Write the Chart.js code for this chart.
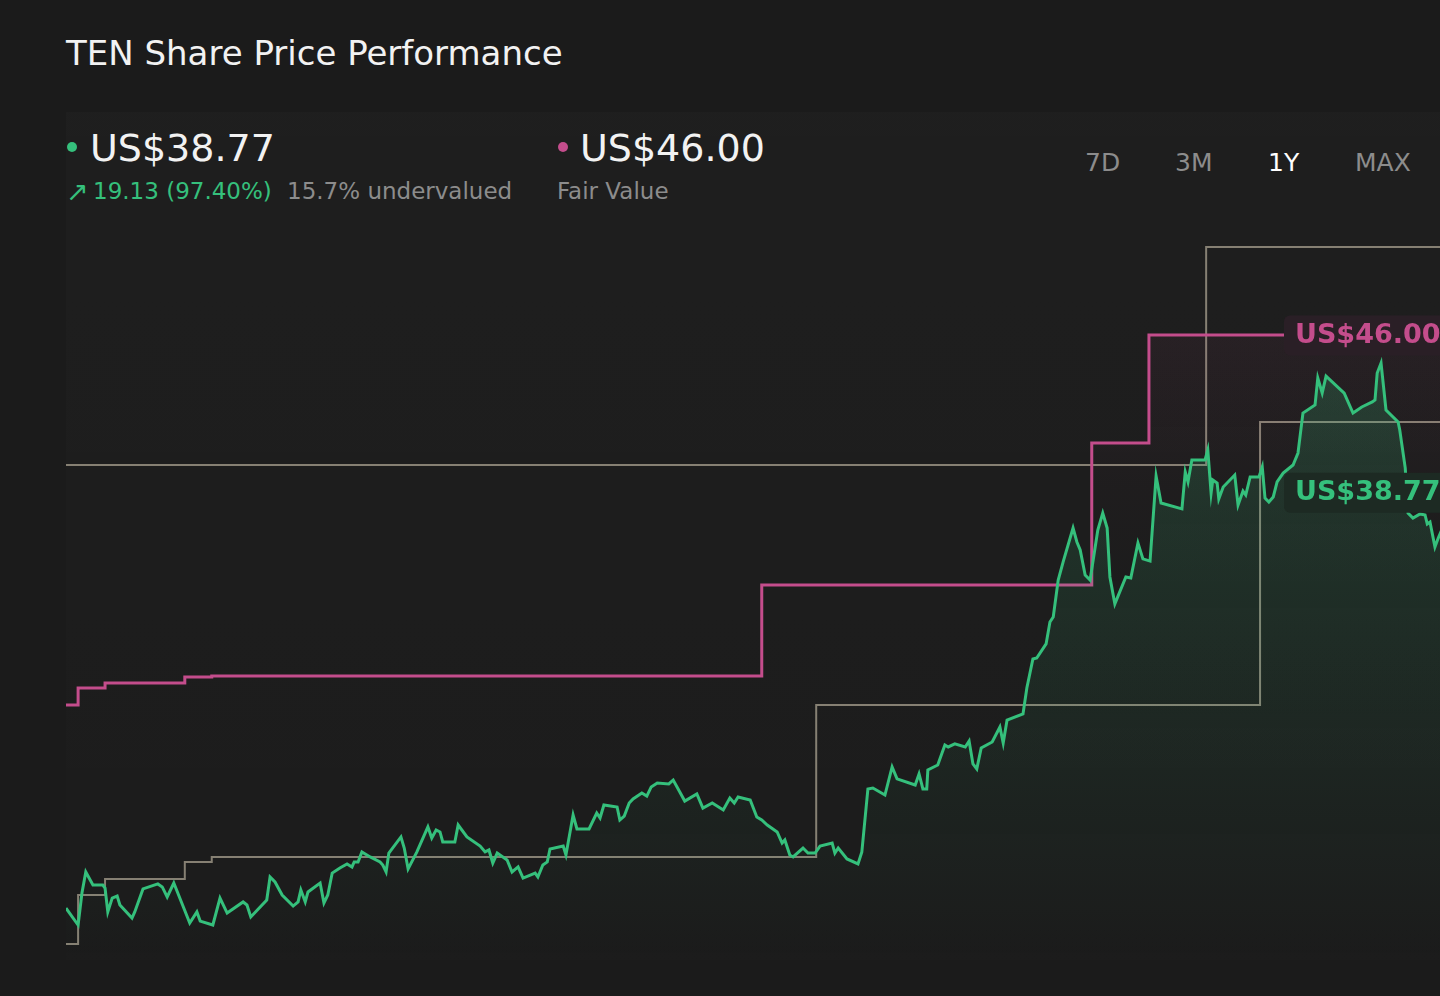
<!DOCTYPE html>
<html>
<head>
<meta charset="utf-8">
<title>TEN Share Price Performance</title>
<script src="https://cdn.jsdelivr.net/npm/chart.js@4.4.1/dist/chart.umd.min.js"></script>
<style>
  html, body { margin: 0; padding: 0; }
  body {
    width: 1440px; height: 996px; overflow: hidden;
    background: #1b1b1b; position: relative;
    font-family: "DejaVu Sans", sans-serif; color: #f2f2f2;
  }
  .abs { position: absolute; line-height: 1; white-space: nowrap; }
  #panel {
    position: absolute; left: 66px; top: 112px; width: 1374px; height: 848px;
    background: linear-gradient(to bottom, rgba(255,255,255,0.014), rgba(255,255,255,0.004));
  }
  #title { left: 66px; top: 36px; font-size: 34px; }
  .dot { position: absolute; width: 10px; height: 10px; border-radius: 50%; }
  .big { font-size: 38px; top: 129px; }
  .sub { font-size: 23px; top: 180px; color: #8c8c8c; }
  .range { font-size: 25px; top: 150px; color: #8c8c8c; }
  #chartBox { position: absolute; left: 66px; top: 230px; width: 1386px; height: 730px; }
</style>
</head>
<body>
<div id="panel"></div>
<div id="title" class="abs">TEN Share Price Performance</div>

<div class="dot" style="left:67px; top:142px; background:#35c07c;"></div>
<div class="abs big" style="left:90px;">US$38.77</div>
<div class="abs" style="left:66px; top:178px; font-size:27px; color:#35c07c;">↗</div>
<div class="abs sub" style="left:93px; color:#35c07c;">19.13 (97.40%)</div>
<div class="abs sub" style="left:287px;">15.7% undervalued</div>

<div class="dot" style="left:558px; top:142px; background:#c44d8c;"></div>
<div class="abs big" style="left:580px;">US$46.00</div>
<div class="abs sub" style="left:557px;">Fair Value</div>

<div class="abs range" style="left:1085px;">7D</div>
<div class="abs range" style="left:1175px;">3M</div>
<div class="abs range" style="left:1268px; color:#ffffff;">1Y</div>
<div class="abs range" style="left:1355px;">MAX</div>

<div id="chartBox"><canvas id="priceChart"></canvas></div>

<script>
// trading-day index and close price (US$)
const priceDays = [
  0, 2.2, 2.9, 3.6, 4.9, 6.7, 7.1, 7.6, 8.4, 9.3, 9.8, 12.0, 12.5, 14.0, 16.7, 17.5, 18.4, 19.6,
  22.5, 23.8, 24.4, 26.7, 28.0, 29.3, 32.2, 32.9, 33.6, 36.5, 37.1, 38.0, 39.3, 41.3, 42.2, 42.7,
  43.5, 44.0, 46.2, 46.9, 47.6, 48.4, 49.8, 51.1, 52.0, 52.4, 53.1, 53.8, 55.3, 57.1, 57.6, 58.2,
  58.7, 60.9, 61.5, 62.2, 63.8, 65.8, 66.5, 67.3, 68.0, 68.5, 70.7, 71.3, 72.9, 75.3, 76.2, 76.9,
  77.6, 78.4, 80.2, 81.1, 82.2, 83.1, 85.3, 85.8, 86.7, 87.5, 88.0, 90.4, 90.9, 92.2, 92.9, 95.1,
  96.5, 97.1, 97.8, 100.2, 100.7, 101.5, 102.4, 103.1, 104.7, 105.6, 106.4, 107.5, 109.6, 110.4,
  111.6, 112.5, 114.7, 115.8, 117.5, 119.5, 120.7, 121.5, 122.2, 124.4, 125.6, 126.5, 127.5, 129.3,
  130.2, 130.7, 131.6, 132.2, 134.0, 134.9, 136.2, 137.1, 139.3, 139.8, 140.4, 142.0, 144.0, 144.7,
  145.8, 146.7, 148.9, 150.2, 151.1, 154.4, 155.1, 155.8, 156.5, 156.7, 158.5, 159.8, 160.4, 161.6,
  163.5, 164.2, 164.9, 165.6, 166.4, 168.4, 169.8, 170.4, 171.1, 174.0, 174.7, 175.8, 176.5, 178.2,
  178.9, 179.5, 180.4, 181.3, 183.1, 183.8, 184.4, 185.3, 186.2, 187.6, 188.5, 189.3, 189.8, 190.7,
  192.7, 193.6, 194.9, 195.8, 197.1, 198.2, 199.1, 202.9, 203.5, 204.0, 204.7, 207.1, 207.6, 208.2,
  208.5, 209.3, 209.6, 210.4, 212.5, 213.1, 214.0, 214.5, 215.3, 216.9, 217.5, 218.0, 218.7, 219.5,
  220.2, 221.3, 223.1, 224.0, 224.9, 227.1, 227.6, 228.4, 229.1, 232.4, 234.0, 235.6, 237.5, 238.0,
  238.4, 239.1, 240.0, 242.2, 242.5, 243.5, 244.0, 244.9, 246.2, 247.1, 247.5, 248.0, 248.9, 249.5,
  250.9, 252.0
];
const priceValues = [
  19.64, 18.86, 20.33, 21.30, 20.70, 20.70, 20.56, 19.46, 20.10, 20.19, 19.78, 19.18, 19.46, 20.52,
  20.75, 20.61, 20.15, 20.79, 18.95, 19.46, 19.04, 18.86, 20.10, 19.41, 19.92, 19.78, 19.23, 20.01,
  21.07, 20.84, 20.24, 19.73, 19.92, 20.47, 19.92, 20.38, 20.79, 19.87, 20.24, 21.25, 21.48, 21.67,
  21.53, 21.76, 21.76, 22.22, 21.99, 21.76, 21.62, 21.30, 22.17, 22.91, 22.40, 21.44, 22.22, 23.37,
  22.86, 23.23, 23.14, 22.68, 22.68, 23.46, 22.91, 22.49, 22.22, 22.31, 21.71, 22.17, 21.85, 21.30,
  21.53, 21.02, 21.25, 21.07, 21.62, 21.76, 22.36, 22.49, 22.08, 23.92, 23.28, 23.28, 24.01, 23.78,
  24.38, 24.29, 23.69, 23.87, 24.47, 24.66, 24.93, 24.79, 25.21, 25.39, 25.35, 25.53, 24.98, 24.56,
  24.89, 24.24, 24.47, 24.15, 24.70, 24.47, 24.75, 24.61, 23.83, 23.69, 23.46, 23.14, 22.63, 22.77,
  22.08, 21.99, 22.40, 22.17, 22.17, 22.49, 22.63, 22.17, 22.40, 21.90, 21.67, 22.22, 25.12, 25.16,
  24.84, 26.13, 25.58, 25.30, 25.81, 25.12, 25.12, 25.99, 26.22, 27.14, 27.05, 27.19, 27.05, 27.32,
  26.27, 26.04, 27.00, 27.28, 27.97, 27.23, 28.29, 28.57, 29.76, 31.10, 31.14, 31.79, 32.80, 33.03,
  34.73, 35.56, 37.12, 36.48, 36.11, 34.96, 34.73, 37.03, 37.81, 37.12, 34.87, 33.63, 34.87, 34.82,
  36.43, 35.70, 35.60, 39.51, 38.27, 38.00, 39.70, 39.24, 40.25, 40.25, 40.71, 38.73, 39.33, 39.19,
  38.46, 39.01, 39.56, 38.18, 38.82, 38.64, 39.47, 39.47, 39.93, 38.50, 38.32, 38.55, 39.24, 39.65,
  40.02, 40.57, 42.41, 42.78, 44.02, 43.33, 44.11, 43.33, 42.41, 42.69, 42.92, 43.01, 44.25, 44.71,
  42.55, 42.00, 41.63, 39.88, 37.81, 37.58, 37.77, 37.72, 37.31, 37.40, 36.25, 36.66, 37.49, 38.77
];

// fair value estimate, held until the next change
const fairValueDays = [0, 2.2, 7.1, 21.6, 26.5, 126.5, 186.5, 196.9, 252];
const fairValues = [28.98, 29.76, 29.99, 30.27, 30.31, 34.50, 41.03, 46.00, 46.00];

// grey reference steps
const upperDays = [0, 207.3, 252];
const upperValues = [40.02, 50.05, 50.05];
const lowerDays = [0, 2.2, 7.1, 21.6, 26.5, 136.4, 217.1, 252];
const lowerValues = [17.99, 20.24, 20.98, 21.76, 21.99, 28.98, 42.00, 42.00];

const GREEN = '#35c07c';
const PINK = '#c44d8c';
const GREY = '#868073';

function toPoints(days, values) {
  return days.map((d, i) => ({ x: d, y: values[i] }));
}

function greenFill(context) {
  const chart = context.chart;
  const area = chart.chartArea;
  if (!area) return 'transparent';
  const g = chart.ctx.createLinearGradient(0, area.top, 0, area.bottom);
  g.addColorStop(0, 'rgba(53,192,124,0.26)');
  g.addColorStop(0.4, 'rgba(53,192,124,0.13)');
  g.addColorStop(1, 'rgba(53,192,124,0.0)');
  return g;
}

function pinkFill(context) {
  const chart = context.chart;
  const area = chart.chartArea;
  if (!area) return 'transparent';
  const g = chart.ctx.createLinearGradient(0, area.top, 0, area.bottom);
  g.addColorStop(0.1, 'rgba(196,77,140,0.07)');
  g.addColorStop(0.35, 'rgba(196,77,140,0.015)');
  g.addColorStop(0.5, 'rgba(196,77,140,0.0)');
  return g;
}

// end-of-line value tags
const endLabels = {
  id: 'endLabels',
  afterDatasetsDraw(chart) {
    const c = chart.ctx;
    const yScale = chart.scales.y;
    const tags = [
      { value: fairValues[fairValues.length - 1], color: PINK, bg: '#2a1f26' },
      { value: priceValues[priceValues.length - 1], color: GREEN, bg: '#1d2a23' }
    ];
    c.save();
    tags.forEach(t => {
      const y = yScale.getPixelForValue(t.value);
      const x = chart.chartArea.right - 168;
      c.fillStyle = t.bg;
      c.beginPath();
      c.roundRect(x, y - 19.5, 190, 40, 6);
      c.fill();
      c.fillStyle = t.color;
      c.font = 'bold 27px "DejaVu Sans"';
      c.textBaseline = 'middle';
      c.textAlign = 'left';
      c.fillText('US$' + t.value.toFixed(2), x + 11, y + 1);
    });
    c.restore();
  }
};

const ctx = document.getElementById('priceChart').getContext('2d');
const priceChart = new Chart(ctx, {
  type: 'line',
  data: {
    datasets: [
      {
        label: 'Share Price',
        data: toPoints(priceDays, priceValues),
        borderColor: GREEN,
        borderWidth: 3,
        backgroundColor: greenFill,
        fill: 'start',
        pointRadius: 0,
        tension: 0,
        order: 0
      },
      {
        label: 'Fair Value',
        data: toPoints(fairValueDays, fairValues),
        borderColor: PINK,
        borderWidth: 3,
        backgroundColor: pinkFill,
        fill: 'start',
        stepped: 'before',
        pointRadius: 0,
        order: 1
      },
      {
        label: 'Upper',
        data: toPoints(upperDays, upperValues),
        borderColor: GREY,
        borderWidth: 2,
        fill: false,
        stepped: 'before',
        pointRadius: 0,
        order: 2
      },
      {
        label: 'Lower',
        data: toPoints(lowerDays, lowerValues),
        borderColor: GREY,
        borderWidth: 2,
        fill: false,
        stepped: 'before',
        pointRadius: 0,
        order: 2
      }
    ]
  },
  options: {
    responsive: true,
    maintainAspectRatio: false,
    animation: false,
    layout: { padding: 0 },
    plugins: {
      legend: { display: false },
      tooltip: { enabled: false },
      title: { display: false }
    },
    scales: {
      x: { type: 'linear', min: 0, max: 252, display: false },
      y: { type: 'linear', min: 17.25, max: 50.83, display: false }
    }
  },
  plugins: [endLabels]
});
</script>
</body>
</html>
